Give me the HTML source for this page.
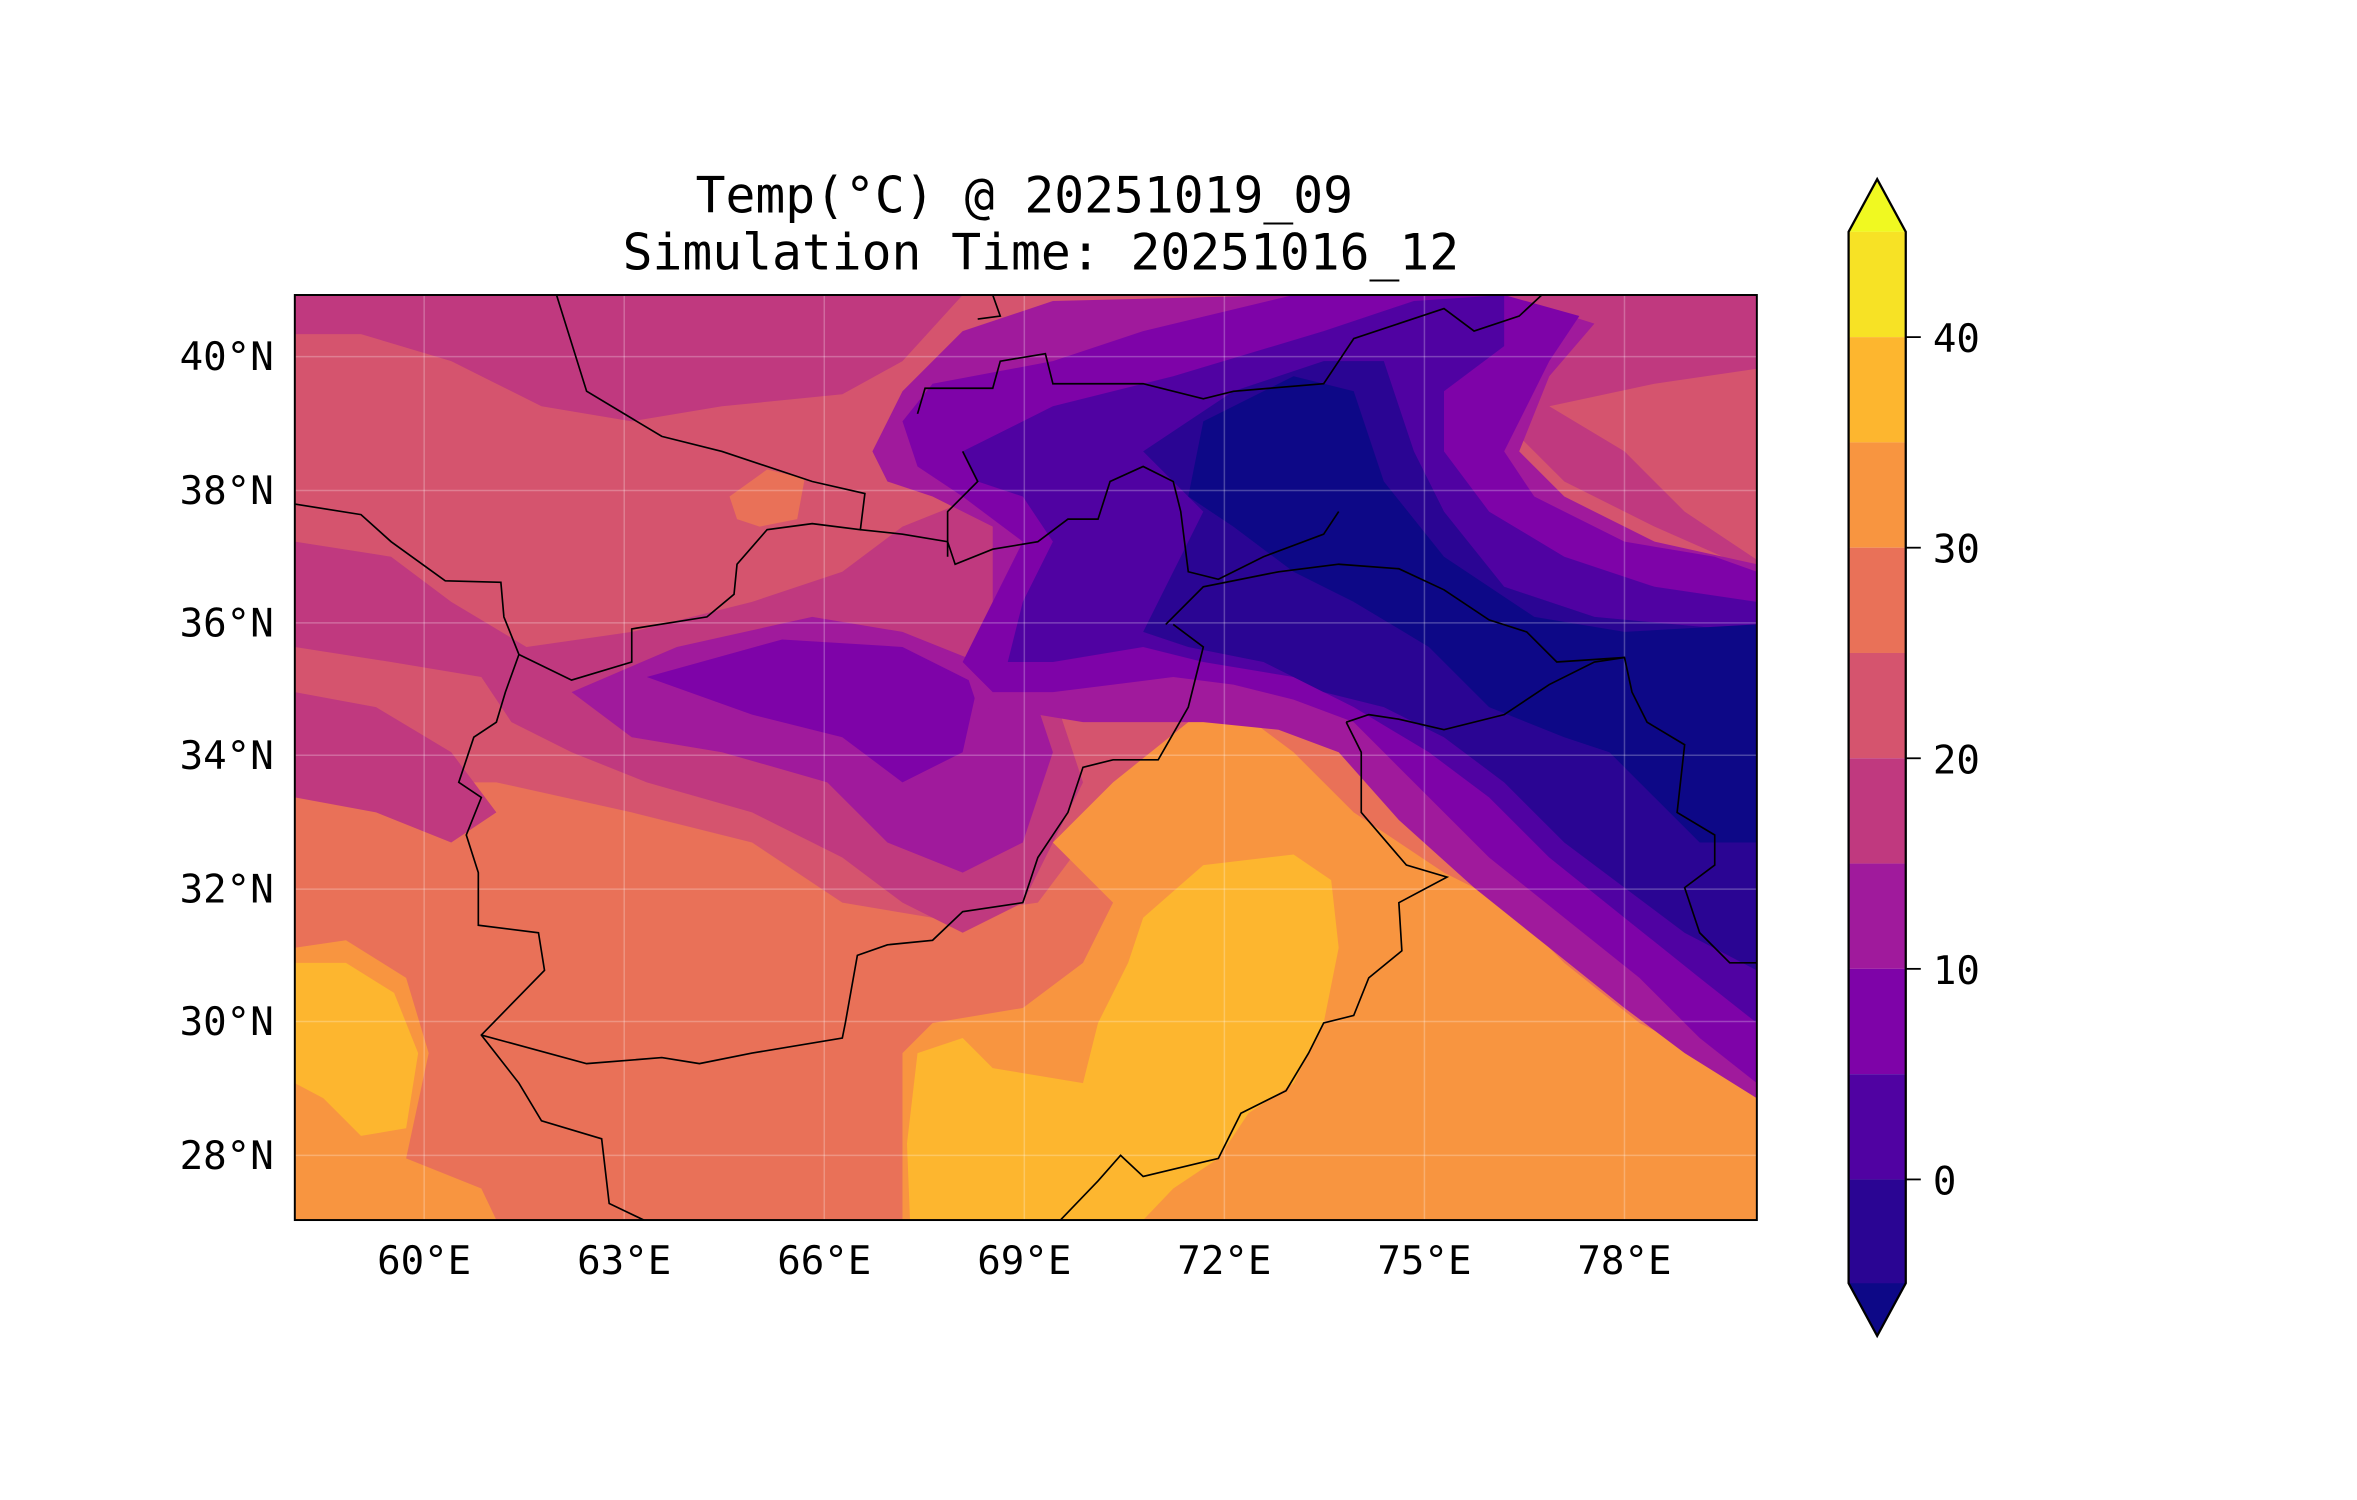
<!DOCTYPE html>
<html><head><meta charset="utf-8"><style>
html,body{margin:0;padding:0;background:#fff;}
svg{display:block;}
text{font-family:"DejaVu Sans Mono","Liberation Mono",monospace;fill:#000;}
</style></head><body>
<svg width="2357" height="1500" viewBox="0 0 1567 997" xmlns="http://www.w3.org/2000/svg">
<defs><clipPath id="c"><rect x="196" y="196" width="972" height="615"/></clipPath></defs>
<text x="681" y="141" font-size="33" text-anchor="middle">Temp(°C) @ 20251019_09</text>
<text x="692" y="179" font-size="33" text-anchor="middle">Simulation Time: 20251016_12</text>
<g clip-path="url(#c)">
<rect x="196" y="196" width="972" height="615" fill="#d5546e"/>
<polygon fill="#c0397f" points="196,196 640,196 600,240 560,262 480,270 420,280 360,270 300,240 240,222 196,222"/>
<polygon fill="#e97158" points="196,500 260,520 330,520 420,540 500,560 560,600 620,610 690,600 720,560 780,500 840,470 880,490 960,560 1040,620 1100,660 1168,700 1168,811 196,811"/>
<polygon fill="#e97158" points="485,330 510,312 535,318 530,345 505,350 490,345"/>
<polygon fill="#f89540" points="700,560 740,520 790,480 820,470 860,500 900,540 960,580 1000,600 1040,640 1090,680 1130,700 1168,718 1168,811 600,811 600,700 620,680 680,670 720,640 740,600"/>
<polygon fill="#f89540" points="196,630 230,625 270,650 285,700 270,770 320,790 330,811 196,811"/>
<polygon fill="#fdb62f" points="610,700 640,690 660,710 720,720 730,680 750,640 760,610 800,575 860,568 885,585 890,630 880,680 860,720 830,740 810,770 780,790 760,811 605,811 603,760"/>
<polygon fill="#fdb62f" points="196,640 230,640 262,660 278,700 270,750 240,755 215,730 196,720"/>
<polygon fill="#c0397f" points="196,360 260,370 300,400 350,430 420,420 500,400 560,380 600,350 650,330 700,320 720,400 700,460 720,520 700,560 680,600 640,620 600,600 560,570 500,540 430,520 380,500 340,480 320,450 260,440 196,430"/>
<polygon fill="#c0397f" points="196,460 250,470 300,500 330,540 300,560 250,540 196,530"/>
<polygon fill="#a01a9c" points="380,460 450,430 540,410 600,420 650,440 680,440 700,500 680,560 640,580 590,560 550,520 480,500 420,490"/>
<polygon fill="#7e03a8" points="430,450 520,425 600,430 650,455 640,500 600,520 560,490 500,475"/>
<polygon fill="#c0397f" points="960,196 1168,196 1168,380 1100,350 1040,320 1000,280 960,240"/>
<polygon fill="#d5546e" points="1030,270 1100,255 1168,245 1168,372 1120,340 1080,300"/>
<polygon fill="#a01a9c" points="580,300 600,260 640,220 700,200 860,196 1000,196 1060,215 1030,250 1010,300 1040,330 1100,360 1168,375 1168,730 1120,700 1080,670 1030,630 980,590 930,545 890,500 850,485 800,480 760,480 720,480 690,475 650,470 640,440 660,400 660,350 620,330 590,320"/>
<polygon fill="#7e03a8" points="600,280 620,255 700,240 760,220 860,196 1000,196 1050,210 1030,240 1000,300 1020,330 1080,360 1140,370 1168,380 1168,720 1130,690 1090,650 1040,610 990,570 940,520 900,480 860,465 820,455 780,450 740,455 700,460 660,460 640,440 660,400 680,360 640,330 610,310"/>
<polygon fill="#5002a2" points="640,300 700,270 780,250 880,220 940,200 1000,196 1000,230 960,260 960,300 990,340 1040,370 1100,390 1168,400 1168,680 1130,650 1080,610 1030,570 990,530 950,500 900,470 860,450 800,440 760,430 700,440 670,440 680,400 700,360 680,330 650,320"/>
<polygon fill="#2a0593" points="760,300 820,260 880,240 920,240 940,300 960,340 1000,390 1060,410 1168,420 1168,645 1120,620 1080,590 1040,560 1000,520 960,490 920,470 880,460 840,440 790,430 760,420 780,380 800,340"/>
<polygon fill="#0d0887" points="800,280 860,250 900,260 920,320 960,370 1020,410 1080,420 1168,415 1168,560 1130,560 1100,530 1070,500 1040,490 990,470 950,430 900,400 860,380 820,350 790,330"/>
<g stroke="#ffffff" stroke-opacity="0.25" stroke-width="1">
<line x1="282" y1="196" x2="282" y2="811"/><line x1="415" y1="196" x2="415" y2="811"/><line x1="548" y1="196" x2="548" y2="811"/><line x1="681" y1="196" x2="681" y2="811"/><line x1="814" y1="196" x2="814" y2="811"/><line x1="947" y1="196" x2="947" y2="811"/><line x1="1080" y1="196" x2="1080" y2="811"/>
<line x1="196" y1="237" x2="1168" y2="237"/><line x1="196" y1="326" x2="1168" y2="326"/><line x1="196" y1="414" x2="1168" y2="414"/><line x1="196" y1="502" x2="1168" y2="502"/><line x1="196" y1="591" x2="1168" y2="591"/><line x1="196" y1="679" x2="1168" y2="679"/><line x1="196" y1="768" x2="1168" y2="768"/>
</g>
<g fill="none" stroke="#000" stroke-width="1.1">
<polyline points="370,196 390,260 440,290 480,300 540,320 575,328 572,352 540,348 510,352 490,375 488,395 470,410 420,418 420,440 380,452 345,435 335,410 333,387 296,386 260,360 240,342 196,335"/>
<polyline points="345,435 336,460 330,480 315,490 305,520 320,530 310,555 318,580 318,615 358,620 362,645 320,688 345,720 360,745 400,757 405,800 428,811"/>
<polyline points="320,688 390,707 440,703 465,707 500,700 560,690 562,680 570,635 590,628 620,625 640,606 660,603 680,600 690,570 710,540 720,510 740,505 770,505 790,470 800,430 780,415"/>
<polyline points="572,352 600,355 630,360 635,375 660,365 690,360 710,345 730,345 738,320 760,310 780,320 785,340 790,380 810,385 840,370 880,355 890,340"/>
<polyline points="775,415 800,390 850,380 890,375 930,378 960,392 990,412 1015,420 1035,440 1080,437"/>
<polyline points="895,480 910,475 930,478 960,485 1000,475 1030,455 1060,440 1080,437 1085,460 1095,480 1120,495 1115,540 1140,555 1140,575 1120,590 1130,620 1150,640 1168,640"/>
<polyline points="895,480 905,500 905,540 935,575 962,583 930,600 932,632 910,650 900,675 880,680 870,700 855,725 825,740 810,770 760,782 745,768 730,785 705,811"/>
<polyline points="610,275 615,258 660,258 665,240 695,235 700,255 760,255 800,265 820,260 880,255 890,240 900,225 930,215 960,205 980,220 1010,210 1025,196"/>
<polyline points="640,300 650,320 630,340 630,370"/>
<polyline points="660,196 665,210 650,212"/>
</g>
</g>
<rect x="196" y="196" width="972" height="615" fill="none" stroke="#000" stroke-width="1.3"/>
<g font-size="26" text-anchor="middle">
<text x="282" y="847">60°E</text><text x="415" y="847">63°E</text><text x="548" y="847">66°E</text><text x="681" y="847">69°E</text><text x="814" y="847">72°E</text><text x="947" y="847">75°E</text><text x="1080" y="847">78°E</text>
</g>
<g font-size="26" text-anchor="end">
<text x="182" y="246">40°N</text><text x="182" y="335">38°N</text><text x="182" y="423">36°N</text><text x="182" y="511">34°N</text><text x="182" y="600">32°N</text><text x="182" y="688">30°N</text><text x="182" y="777">28°N</text>
</g>
<g>
<polygon points="1229,154 1248,119 1267,154" fill="#f0f921"/>
<rect x="1229" y="154" width="38" height="70" fill="#f7e225"/>
<rect x="1229" y="224" width="38" height="70" fill="#fdb62f"/>
<rect x="1229" y="294" width="38" height="70" fill="#f89540"/>
<rect x="1229" y="364" width="38" height="70" fill="#e97158"/>
<rect x="1229" y="434" width="38" height="70" fill="#d5546e"/>
<rect x="1229" y="504" width="38" height="70" fill="#c0397f"/>
<rect x="1229" y="574" width="38" height="70" fill="#a01a9c"/>
<rect x="1229" y="644" width="38" height="70" fill="#7e03a8"/>
<rect x="1229" y="714" width="38" height="70" fill="#5002a2"/>
<rect x="1229" y="784" width="38" height="70" fill="#2a0593"/>
<polygon points="1229,853 1248,888 1267,853" fill="#0d0887"/>
<polygon points="1229,154 1248,119 1267,154 1267,853 1248,888 1229,853" fill="none" stroke="#000" stroke-width="1.5"/>
<g stroke="#000" stroke-width="1.2"><line x1="1267" y1="224" x2="1277" y2="224"/><line x1="1267" y1="364" x2="1277" y2="364"/><line x1="1267" y1="504" x2="1277" y2="504"/><line x1="1267" y1="644" x2="1277" y2="644"/><line x1="1267" y1="784" x2="1277" y2="784"/></g>
<g font-size="26"><text x="1285" y="234">40</text><text x="1285" y="374">30</text><text x="1285" y="514">20</text><text x="1285" y="654">10</text><text x="1285" y="794">0</text></g>
</g>
</svg>
</body></html>
